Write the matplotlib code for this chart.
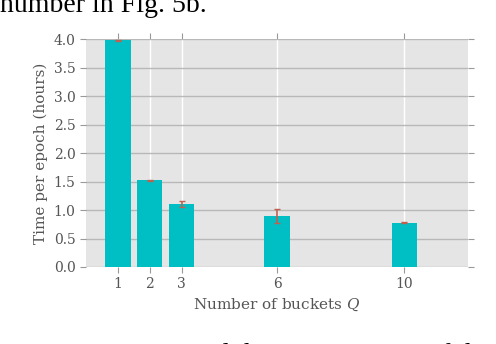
import matplotlib
matplotlib.use("Agg")
import matplotlib.pyplot as plt
import numpy as np

# bucket counts and measured time per epoch (hours)
buckets = [1, 2, 3, 6, 10]
time_per_epoch = [3.98, 1.52, 1.10, 0.90, 0.78]
time_err = [0.01, 0.005, 0.05, 0.12, 0.005]
yticks = np.arange(0, 4.01, 0.5)

plt.rcParams['font.family'] = 'DejaVu Serif'
plt.rcParams['mathtext.fontset'] = 'dejavuserif'

fig = plt.figure(figsize=(4.96, 3.44), dpi=100)
ax = fig.add_axes([86/496, 1-267/344, (468-86)/496, (267-39)/344])
ax.set_facecolor('#e5e5e5')
ax.set_axisbelow(True)

ax.bar(buckets, time_per_epoch, width=0.8, color='#00bfc4', zorder=2,
       yerr=time_err, ecolor='#c0604f', capsize=2,
       error_kw=dict(elinewidth=1.2, capthick=1))

ax.set_xlim(0, 12)
ax.set_ylim(0, 4)
ax.set_xticks(buckets)
ax.set_yticks(yticks)
ax.set_yticklabels([f'{v:.1f}' for v in yticks])
ax.yaxis.grid(True, color='#b8b8b8', lw=1)
ax.xaxis.grid(True, color='white', lw=1)
for s in ax.spines.values():
    s.set_visible(False)
ax.tick_params(axis='both', colors='#999999', labelcolor='#555555',
               labelsize=10, length=4, direction='out',
               top=True, right=True)

ax.set_xlabel('Number of buckets $Q$', fontsize=11, color='#555555')
ax.set_ylabel('Time per epoch (hours)', fontsize=11, color='#555555')

# surrounding text from the page (clipped at the edges like the scan)
fig.text(0.0, 1 - 12/344, 'number in Fig. 5b.', fontsize=20,
         family='Liberation Serif', color='black', va='baseline')
fig.text(0.07, 1 - 362/344, 'ure 4:   Measured the training time of the LSTM model',
         fontsize=20, family='Liberation Serif', color='black', va='baseline')

fig.savefig('out.png', dpi=100)
